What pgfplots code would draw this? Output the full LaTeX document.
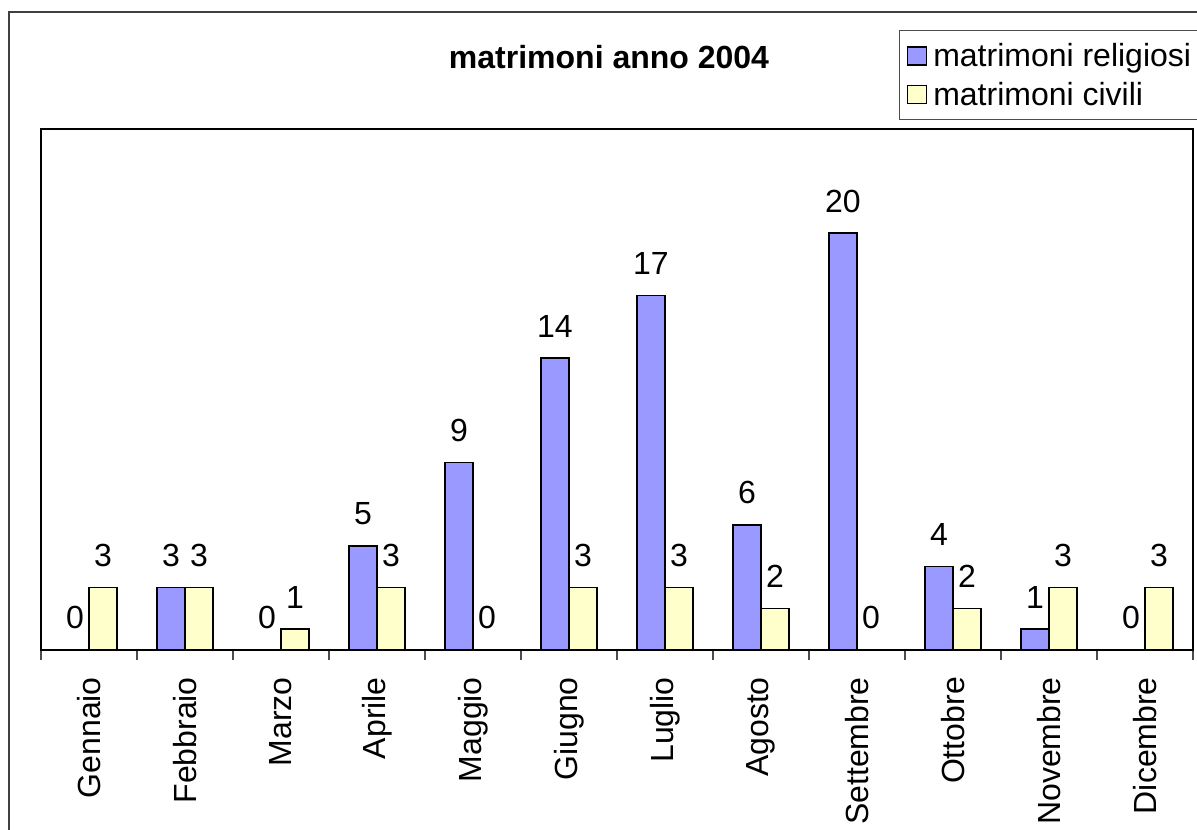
\documentclass[border=0pt]{standalone}
\usepackage{pgfplots}
\pgfplotsset{compat=1.18}
\usepackage{fontspec}
\setmainfont{Liberation Sans}
\definecolor{relig}{RGB}{153,153,255}
\definecolor{civ}{RGB}{255,255,204}
\begin{document}
\begin{tikzpicture}[x=1pt,y=1pt]
\path[use as bounding box] (0,0) rectangle (1197,830);
\draw[black!75, line width=2pt] (9,-20) -- (9,818) -- (1220,818);
\node[font=\fontsize{32}{38}\selectfont\bfseries] at (609,773) {matrimoni anno 2004};
\begin{axis}[
  at={(41pt,180pt)}, anchor=south west,
  scale only axis, width=1152pt, height=521pt,
  xmin=-0.5, xmax=11.5, ymin=0, ymax=25,
  ybar=0pt, bar width=28pt,
  axis line style={black, line width=1.5pt},
  xtick={0,...,11},
  xticklabels={Gennaio,Febbraio,Marzo,Aprile,Maggio,Giugno,Luglio,Agosto,Settembre,Ottobre,Novembre,Dicembre},
  minor xtick={-0.5,0.5,...,11.5},
  major tick length=0pt, minor tick length=10pt,
  tick align=outside, xtick pos=bottom, ytick=\empty,
  minor tick style={black!70, line width=1.5pt},
  xticklabel style={font=\fontsize{32}{38}\selectfont, rotate=90, anchor=east, inner sep=0pt, xshift=-27pt},
  /pgf/number format/assume math mode=true,
  nodes near coords={\pgfmathprintnumber{\pgfplotspointmeta}},
  every node near coord/.append style={font=\fontsize{32}{38}\selectfont, inner sep=0pt, anchor=base, yshift=21pt},
  legend image code/.code={\draw[#1, line width=1.5pt] (0pt,-9pt) rectangle (19pt,9pt); \path[draw=none, fill=none] (25pt,0pt);},
  legend style={at={(axis description cs:0.7448,1.190)}, anchor=north west, draw=black!70, line width=1pt,
    font=\fontsize{32}{38}\selectfont, inner xsep=7pt, inner ysep=12pt, row sep=12pt,
    nodes={inner sep=1pt}},
  legend cell align=left,
]
\addplot[fill=relig, draw=black, line width=1.5pt] coordinates {(0,0) (1,3) (2,0) (3,5) (4,9) (5,14) (6,17) (7,6) (8,20) (9,4) (10,1) (11,0)};
\addplot[fill=civ, draw=black, line width=1.5pt] coordinates {(0,3) (1,3) (2,1) (3,3) (4,0) (5,3) (6,3) (7,2) (8,0) (9,2) (10,3) (11,3)};
\legend{matrimoni religiosi, matrimoni civili}
\end{axis}
\end{tikzpicture}
\end{document}
